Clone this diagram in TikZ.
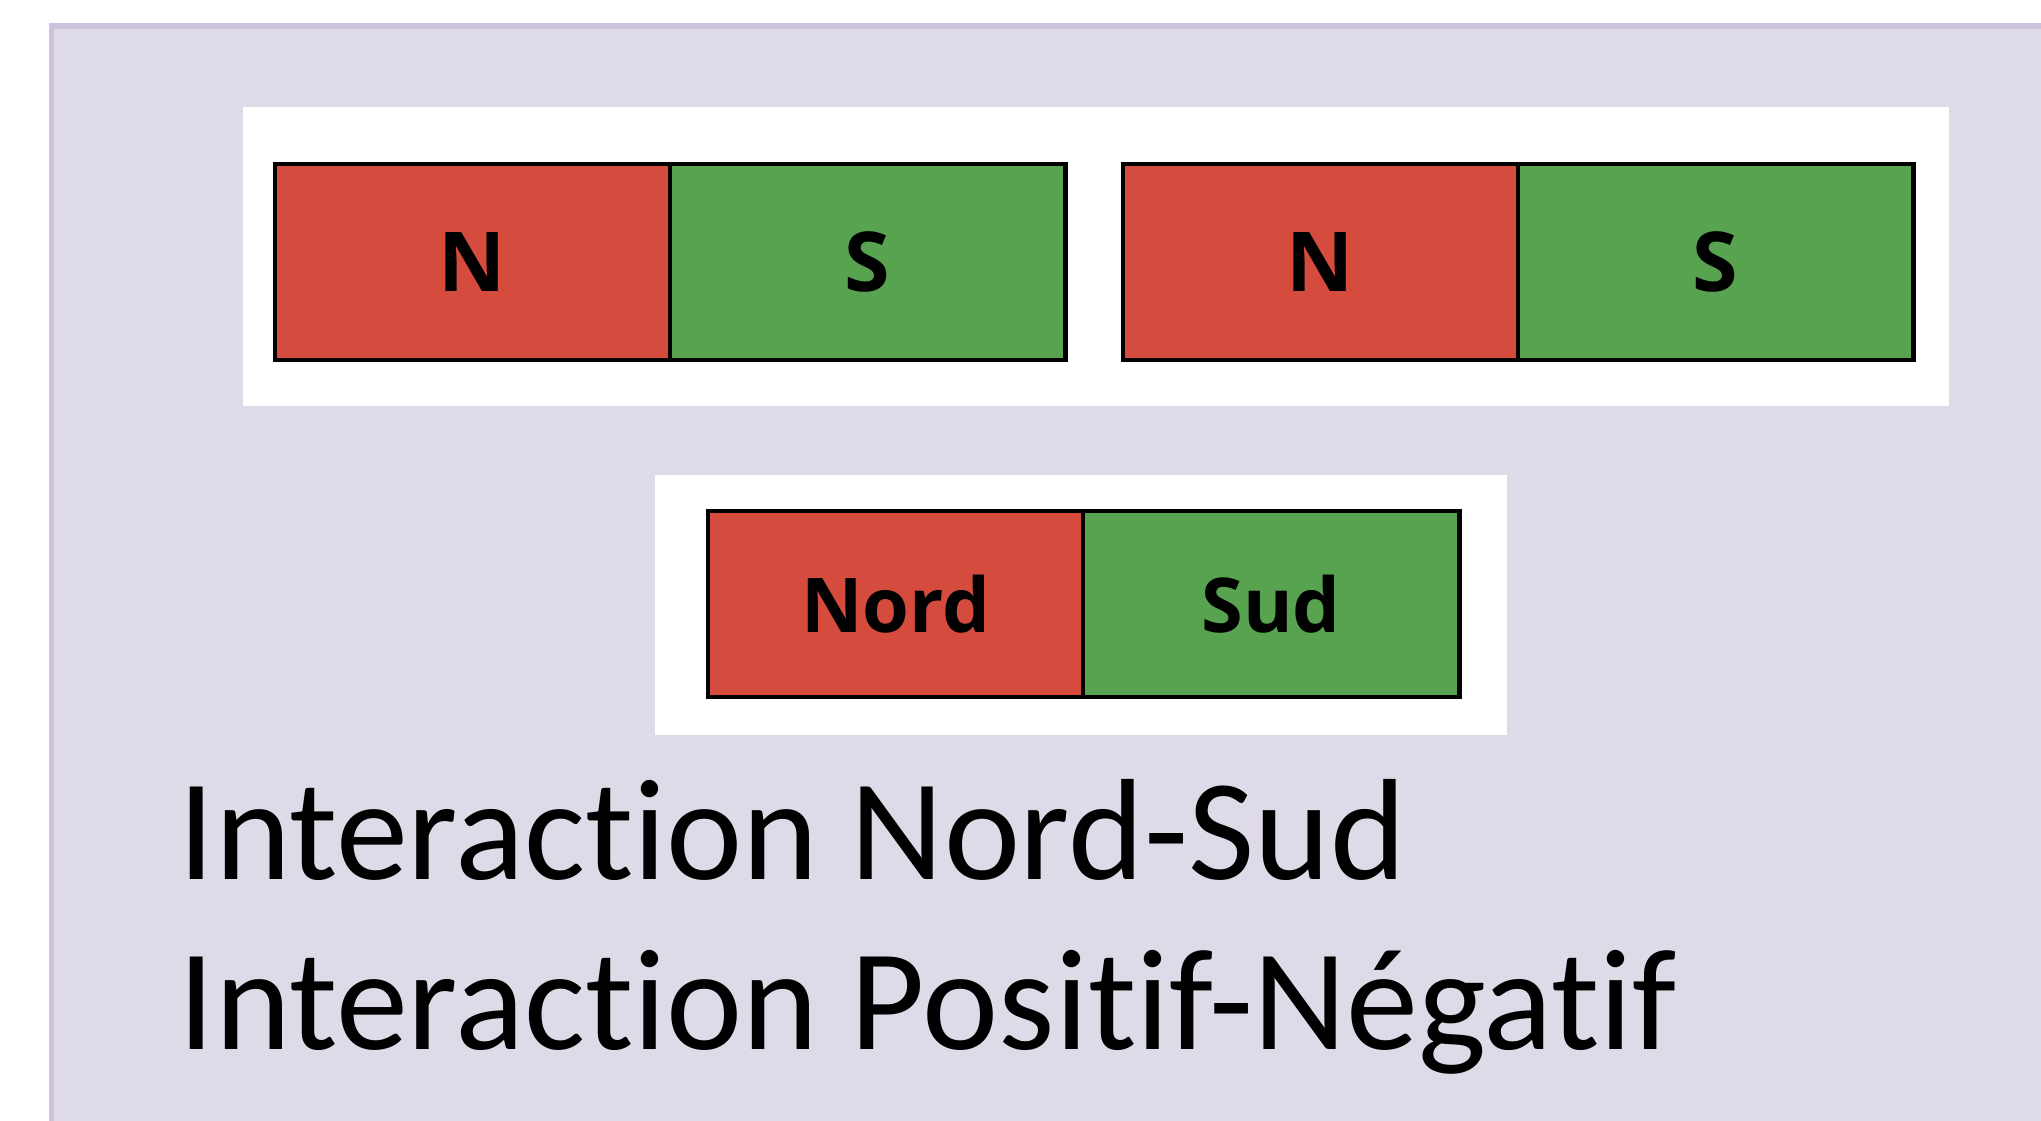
\documentclass[tikz,border=0pt]{standalone}
\usepackage{fontspec}
\setmainfont{Carlito}[Ligatures=NoCommon]
\newfontfamily\polefont{Open Sans}[Ligatures=NoCommon]
\usepackage{xcolor}
\usetikzlibrary{positioning}

\definecolor{panelfill}{HTML}{DFDAE8}
\definecolor{paneldraw}{HTML}{CBC3DD}
\definecolor{polered}{HTML}{D54B3E}
\definecolor{polegreen}{HTML}{58A34F}

\begin{document}
\begin{tikzpicture}[x=0.01cm, y=-0.01cm,
                % Define styles
                pole/.style={rectangle, draw=black, line width=1.3pt, outer sep=0pt, inner sep=0pt, minimum width=3.95cm, minimum height=1.96cm, font=\polefont\fontsize{23.5}{28}\selectfont\bfseries},
                northpole/.style={pole, fill=polered},
                southpole/.style={pole, fill=polegreen},
                card/.style={fill=white},
                caption/.style={anchor=base west, inner sep=0pt, font=\fontsize{41}{48}\selectfont}
            ]
            \clip (0,0) rectangle (2041,1121);
            \useasboundingbox (0,0) rectangle (2041,1121);

            % --- Background panel ---
            \draw [fill=panelfill, draw=paneldraw, line width=0.05cm] (51.5,26) rectangle (2100,1200);

            % --- White cards ---
            \fill [card] (243,107) rectangle (1949,406);
            \fill [card] (655,475) rectangle (1507,735);

            % --- Magnets ---

            % 1. Two bar magnets in a row
            \node [northpole] (n1) at (472.5,262) {N};
            \node [southpole, right=0pt of n1] (s1) {S};
            \node [northpole] (n2) at (1320.5,262) {N};
            \node [southpole, right=0pt of n2] (s2) {S};

            % 2. Named poles
            \node [northpole, minimum width=3.75cm, minimum height=1.86cm, font=\polefont\fontsize{21.5}{26}\selectfont\bfseries] (nord) at (895.5,604) {Nord};
            \node [southpole, right=0pt of nord, minimum width=3.76cm, minimum height=1.86cm, font=\polefont\fontsize{21.5}{26}\selectfont\bfseries] (sud) {Sud};

            % --- Captions ---
            \node [caption] (nordsud) at (178,879) {Interaction Nord-Sud};
            \node [caption] (posneg) at (178,1049) {Interaction Positif-Négatif};

        \end{tikzpicture}
\end{document}
